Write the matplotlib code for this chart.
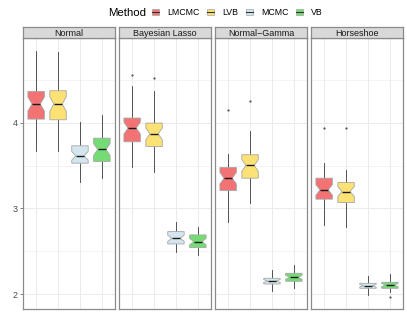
import numpy as np
import matplotlib
matplotlib.use("Agg")
import matplotlib.pyplot as plt
from matplotlib.patches import Patch
from matplotlib.lines import Line2D
from matplotlib.legend_handler import HandlerTuple

plt.rcParams['font.family'] = ['Liberation Sans', 'DejaVu Sans']

methods = ["LMCMC", "LVB", "MCMC", "VB"]
facets = ["Normal", "Bayesian Lasso", "Normal\u2212Gamma", "Horseshoe"]
colors = ["#F27373", "#FCE274", "#D3E6EF", "#75DC75"]

# per facet: whislo, q1, med, q3, whishi, outliers (order = methods)
normal_whislo = [3.676, 3.672, 3.306, 3.360]
normal_q1 = [4.043, 4.035, 3.528, 3.548]
normal_med = [4.219, 4.219, 3.614, 3.688]
normal_q3 = [4.366, 4.374, 3.731, 3.820]
normal_whishi = [4.834, 4.826, 4.008, 4.094]
normal_out = [[], [], [], []]

lasso_whislo = [3.480, 3.430, 2.495, 2.456]
lasso_q1 = [3.778, 3.723, 2.585, 2.542]
lasso_med = [3.938, 3.871, 2.651, 2.612]
lasso_q3 = [4.055, 3.996, 2.729, 2.690]
lasso_whishi = [4.425, 4.366, 2.839, 2.780]
lasso_out = [[4.561], [4.520], [], []]

ng_whislo = [2.839, 3.061, 2.039, 2.067]
ng_q1 = [3.209, 3.353, 2.117, 2.149]
ng_med = [3.353, 3.501, 2.152, 2.195]
ng_q3 = [3.478, 3.626, 2.184, 2.242]
ng_whishi = [3.634, 3.899, 2.281, 2.339]
ng_out = [[4.144], [4.257], [], []]

hs_whislo = [2.807, 2.787, 1.988, 2.027]
hs_q1 = [3.108, 3.068, 2.067, 2.067]
hs_med = [3.216, 3.197, 2.097, 2.105]
hs_q3 = [3.353, 3.302, 2.125, 2.137]
hs_whishi = [3.528, 3.450, 2.211, 2.230]
hs_out = [[3.938], [3.938], [], [1.970]]

facet_data = [
    (normal_whislo, normal_q1, normal_med, normal_q3, normal_whishi, normal_out),
    (lasso_whislo, lasso_q1, lasso_med, lasso_q3, lasso_whishi, lasso_out),
    (ng_whislo, ng_q1, ng_med, ng_q3, ng_whishi, ng_out),
    (hs_whislo, hs_q1, hs_med, hs_q3, hs_whishi, hs_out),
]
n_obs = 40  # sample size used for notch (ggplot: med +/- 1.58*IQR/sqrt(n))

W, H = 407, 326
fig = plt.figure(figsize=(W / 100, H / 100), dpi=100)

panel_x = [23, 119, 215, 311]
panel_w = 92
panel_top = 38
panel_bot = 309
strip_top = 27

border_col = "#8A8A8A"
grid_col = "#EBEBEB"

for i, (name, d) in enumerate(zip(facets, facet_data)):
    left = panel_x[i] / W
    ax = fig.add_axes([left, (H - panel_bot) / H, panel_w / W, (panel_bot - panel_top) / H])
    wl, q1, md, q3, wh, out = d
    stats = []
    for j in range(len(methods)):
        iqr = q3[j] - q1[j]
        nh = 1.58 * iqr / np.sqrt(n_obs)
        stats.append(dict(whislo=wl[j], q1=q1[j], med=md[j], q3=q3[j], whishi=wh[j],
                          fliers=out[j], cilo=md[j] - nh, cihi=md[j] + nh, label=methods[j]))
    ax.set_axisbelow(True)
    ax.grid(True, which='major', color=grid_col, lw=0.7)
    ax.grid(True, which='minor', axis='y', color=grid_col, lw=0.4)
    bp = ax.bxp(stats, positions=np.arange(1, 5), widths=0.75, shownotches=True,
                patch_artist=True, showcaps=False,
                boxprops=dict(edgecolor="#A6A6A6", linewidth=0.6),
                whiskerprops=dict(color="#3A3A3A", linewidth=0.6),
                medianprops=dict(color="#1A1A1A", linewidth=1.0),
                flierprops=dict(marker='o', markersize=1.6, markerfacecolor="#555555",
                                markeredgecolor='none'))
    for patch, c in zip(bp['boxes'], colors):
        patch.set_facecolor(c)
    for w in bp['whiskers']:
        w.set_zorder(1.5)
    ax.set_xlim(0.4, 4.6)
    ax.set_ylim(1.825, 4.99)
    ax.set_yticks([2, 3, 4])
    ax.set_yticks([2.5, 3.5, 4.5], minor=True)
    ax.set_xticks([1, 2, 3, 4])
    ax.set_xticklabels([])
    ax.tick_params(axis='x', length=0)
    ax.tick_params(axis='y', which='minor', length=0)
    if i == 0:
        ax.tick_params(axis='y', which='major', length=2.2, width=0.5, color="#4D4D4D",
                       labelsize=6.5, labelcolor="#4D4D4D", pad=1.5)
    else:
        ax.tick_params(axis='y', which='major', length=0, labelleft=False)
    for s in ax.spines.values():
        s.set_color(border_col)
        s.set_linewidth(0.9)
    # strip
    sax = fig.add_axes([left, (H - panel_top) / H, panel_w / W, (panel_top - strip_top) / H])
    sax.set_facecolor("#D9D9D9")
    sax.set_xticks([])
    sax.set_yticks([])
    for s in sax.spines.values():
        s.set_color(border_col)
        s.set_linewidth(0.9)
    sax.text(0.5, 0.45, name, ha='center', va='center', fontsize=6.5, color="#1A1A1A",
             transform=sax.transAxes)

# legend
fig.text(108 / W, 1 - 12.5 / H, "Method", ha='left', va='center', fontsize=8.2, color="black")
handles = [(Line2D([], [], color="#333333", lw=0.6),
            Patch(facecolor=c, edgecolor="#A6A6A6", linewidth=0.5),
            Line2D([], [], color="#333333", lw=0.8)) for c in colors]
leg = fig.legend(handles, methods, loc='center left', bbox_to_anchor=(151.5 / W, 1 - 12.5 / H),
                 ncol=4, frameon=False, fontsize=6.3, handlelength=0.8, handleheight=0.7,
                 handletextpad=0.95, columnspacing=0.86, borderpad=0, borderaxespad=0,
                 handler_map={tuple: HandlerTuple(ndivide=1, pad=0)})

fig.savefig("out.png", dpi=100)
